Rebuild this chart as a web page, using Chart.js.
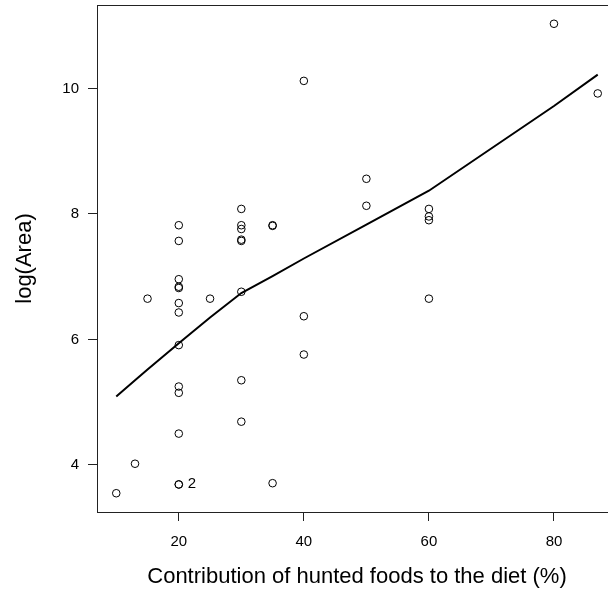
<!DOCTYPE html>
<html>
<head>
<meta charset="utf-8">
<script src="https://cdn.jsdelivr.net/npm/chart.js@4.4.1/dist/chart.umd.min.js"></script>
<style>
html,body{margin:0;padding:0;background:#fff;overflow:hidden;}
#wrap{width:640px;height:592px;}
</style>
</head>
<body>
<div id="wrap"><canvas id="plot" width="640" height="592"></canvas></div>
<script>

/* ================= DATA ================= */
const huntX=[10,13,20,20,35,20,20,20,30,30,20,15,20,20,20,20,20,20,20,25,30,30,30,30,30,30,35,35,50,50,60,60,60,60,40,40,40,80,87];
const logArea=[3.55,4.02,3.69,3.69,3.71,4.50,5.25,5.15,5.35,4.69,5.91,6.65,6.96,6.84,6.82,6.58,6.43,7.57,7.82,6.65,8.08,7.82,7.76,7.59,7.57,6.76,7.82,7.81,8.13,8.56,8.08,7.96,7.90,6.65,6.37,5.76,10.12,11.03,9.92];

/* lowess fit */
const fitX=[10,13,15,20,25,30,35,40,50,60,80,87];
const fitY=[5.09,5.35,5.52,5.94,6.35,6.74,7.01,7.29,7.83,8.37,9.72,10.22];

/* labels */
const xTicks=[20,40,60,80];
const yTicks=[4,6,8,10];
const notes=[{x:20,y:3.69,text:"2"}];

const ink="#222";
const fam="'Liberation Sans', Arial, sans-serif";

/* ================= PLUGIN ================= */
const extras={
id:"extras",
afterDatasetsDraw(chart){
const ctx=chart.ctx;
const a=chart.chartArea;
ctx.save();
ctx.strokeStyle=ink;
ctx.lineWidth=1;
ctx.strokeRect(a.left+0.5,a.top+0.5,a.right-a.left,a.bottom-a.top);
ctx.fillStyle="#000";
ctx.font="15px "+fam;
ctx.textAlign="left";
ctx.textBaseline="middle";
notes.forEach(n=>{
ctx.fillText(
n.text,
chart.scales.x.getPixelForValue(n.x)+9,
chart.scales.y.getPixelForValue(n.y)-1
);
});
ctx.restore();
}
};

/* ================= CHART ================= */
new Chart(
document.getElementById("plot"),
{
type:"scatter",
data:{
datasets:[
{
type:"scatter",
data:huntX.map((v,i)=>({x:v,y:logArea[i]})),
pointStyle:"circle",
pointRadius:3.8,
borderWidth:1,
borderColor:"#000",
backgroundColor:"rgba(0,0,0,0)"
},
{
type:"line",
data:fitX.map((v,i)=>({x:v,y:fitY[i]})),
borderColor:"#000",
borderWidth:2,
pointRadius:0,
tension:0,
fill:false
}
]
},
plugins:[extras],
options:{
responsive:false,
animation:false,
layout:{padding:{top:5,right:23,left:0,bottom:0}},
plugins:{
legend:{display:false},
tooltip:{enabled:false}
},
scales:{
x:{
type:"linear",
min:6.92,
max:90.08,
afterBuildTicks:(s)=>{s.ticks=xTicks.map(v=>({value:v}));},
afterFit:(s)=>{s.height=80;s.paddingLeft=0;s.paddingRight=0;},
grid:{drawOnChartArea:false,drawTicks:true,tickLength:9,color:ink},
border:{display:true,color:ink},
ticks:{color:"#000",font:{family:fam,size:15},padding:12,maxRotation:0},
title:{
display:true,
text:"Contribution of hunted foods to the diet (%)",
color:"#000",
font:{family:fam,size:22},
padding:{top:0,bottom:2}
}
},
y:{
type:"linear",
min:3.251,
max:11.329,
afterBuildTicks:(s)=>{s.ticks=yTicks.map(v=>({value:v}));},
afterFit:(s)=>{s.width=97;s.paddingTop=0;s.paddingBottom=0;},
grid:{drawOnChartArea:false,drawTicks:true,tickLength:9,color:ink},
border:{display:true,color:ink},
ticks:{color:"#000",font:{family:fam,size:15},padding:9},
title:{
display:true,
text:"log(Area)",
color:"#000",
font:{family:fam,size:22},
padding:{top:12,bottom:0}
}
}
}
}
}
);

</script>
</body>
</html>
